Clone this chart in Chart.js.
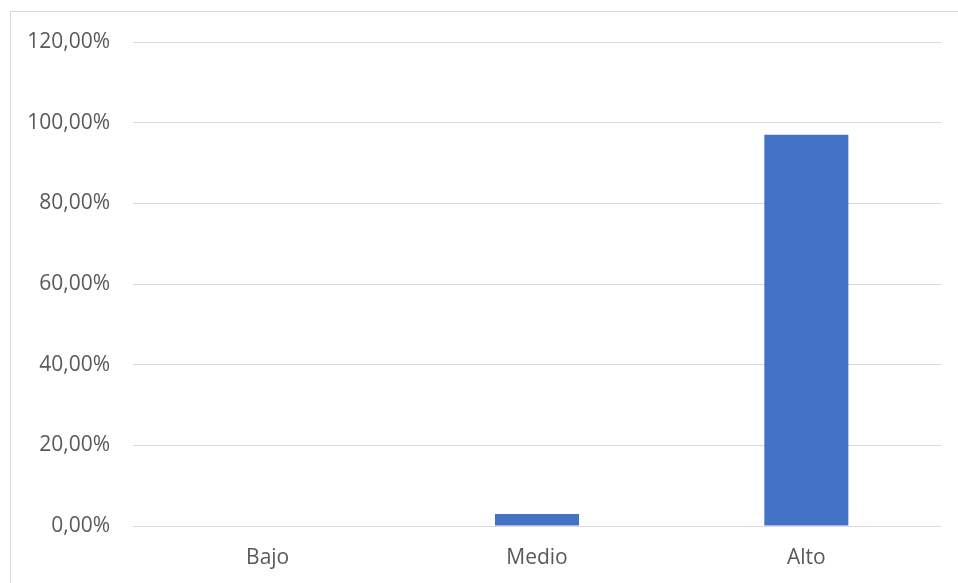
<!DOCTYPE html>
<html>
<head>
<meta charset="utf-8">
<script src="https://cdn.jsdelivr.net/npm/chart.js@4/dist/chart.umd.min.js"></script>
<style>
  html, body { margin: 0; padding: 0; background: #ffffff; overflow: hidden; }
  #wrap { position: relative; width: 958px; height: 583px; }
  canvas { display: block; }
</style>
</head>
<body>
<div id="wrap"><canvas id="c" width="958" height="583"></canvas></div>
<script>
const categories = ["Bajo", "Medio", "Alto"];
const values = [0, 3.0, 97.0];
const yTicks = [0, 20, 40, 60, 80, 100, 120];

const frame = {
  id: 'frame',
  beforeDraw(chart) {
    const ctx = chart.ctx;
    ctx.save();
    ctx.fillStyle = '#ffffff';
    ctx.fillRect(0, 0, chart.width, chart.height);
    ctx.strokeStyle = '#d9d9d9';
    ctx.lineWidth = 1;
    ctx.strokeRect(10.5, 11.5, chart.width + 20, chart.height + 20);
    ctx.restore();
  }
};

new Chart(document.getElementById('c'), {
  type: 'bar',
  data: {
    labels: categories,
    datasets: [{
      data: values,
      backgroundColor: '#4472C4',
      borderWidth: 0,
      barPercentage: 0.624,
      categoryPercentage: 0.5
    }]
  },
  options: {
    responsive: false,
    animation: false,
    events: [],
    layout: { padding: { top: 42, right: 17, left: 0, bottom: 0 } },
    plugins: { legend: { display: false }, tooltip: { enabled: false } },
    scales: {
      x: {
        grid: { display: false, drawTicks: false },
        border: { display: false },
        ticks: { color: '#595959', font: { family: 'Open Sans', size: 21 }, padding: 19 },
        afterFit(scale) { scale.height = 57; }
      },
      y: {
        min: 0, max: 120,
        afterBuildTicks(scale) { scale.ticks = yTicks.map(v => ({ value: v })); },
        grid: { color: '#d9d9d9', lineWidth: 1, drawTicks: false },
        border: { display: false },
        ticks: {
          color: '#595959',
          font: { family: 'Open Sans', size: 21 },
          padding: 23,
          callback: (v) => v.toFixed(2).replace('.', ',') + '%'
        },
        afterFit(scale) { scale.width = 133; }
      }
    }
  },
  plugins: [frame]
});
</script>
</body>
</html>
